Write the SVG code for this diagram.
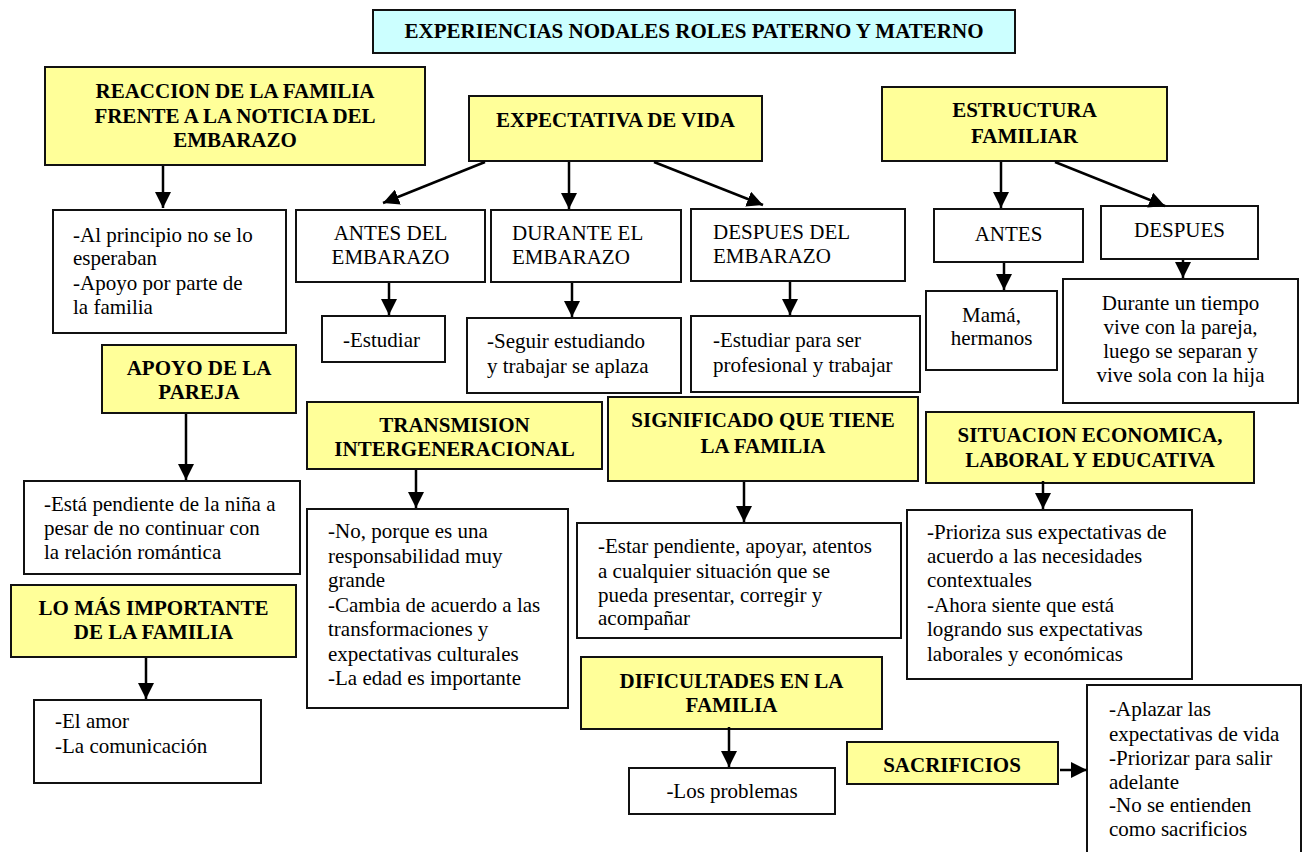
<svg xmlns="http://www.w3.org/2000/svg" width="1303" height="852" viewBox="0 0 1303 852">
<defs>
<style>
.h{fill:#FFFF99;stroke:#111;stroke-width:2}
.b{fill:#fff;stroke:#111;stroke-width:2}
.ti{fill:#CCFFFF;stroke:#111;stroke-width:2}
text{font-size:21px;fill:#000}
.bd{font-weight:bold}
.c{text-anchor:middle}
.ar{stroke:#000;stroke-width:2.5;fill:none;marker-end:url(#ah)}
</style>
<marker id="ah" markerUnits="userSpaceOnUse" markerWidth="16" markerHeight="16" refX="16" refY="8" orient="auto">
<path d="M0,0 L16,8 L0,16 z" fill="#000"/>
</marker>
</defs>
<rect width="1303" height="852" fill="#fff"/>
<g font-family="Liberation Serif, Tinos, Times New Roman, Times, Nimbus Roman, DejaVu Serif, Noto Serif, serif">

<g id="title">
<rect class="ti" x="373" y="10" width="642" height="43"/>
<text class="bd c" x="694" y="38" font-size="20">EXPERIENCIAS NODALES ROLES PATERNO Y MATERNO</text>
</g>

<g id="reaccion">
<rect class="h" x="45" y="67" width="380" height="98"/>
<text class="bd c" x="235" y="98">REACCION DE LA FAMILIA</text>
<text class="bd c" x="235" y="123">FRENTE A LA NOTICIA DEL</text>
<text class="bd c" x="235" y="147">EMBARAZO</text>
</g>
<g id="reaccion-det">
<rect class="b" x="53" y="210" width="233" height="123"/>
<text x="73" y="242">-Al principio no se lo</text>
<text x="73" y="265">esperaban</text>
<text x="73" y="290">-Apoyo por parte de</text>
<text x="73" y="314">la familia</text>
</g>

<g id="expectativa">
<rect class="h" x="469" y="96" width="293" height="65"/>
<text class="bd c" x="615.5" y="127">EXPECTATIVA DE VIDA</text>
</g>
<g id="antes-del">
<rect class="b" x="296" y="210" width="189" height="72"/>
<text class="c" x="390.5" y="240">ANTES DEL</text>
<text class="c" x="390.5" y="264">EMBARAZO</text>
</g>
<g id="durante-el">
<rect class="b" x="491" y="210" width="190" height="72"/>
<text x="512" y="240">DURANTE EL</text>
<text x="512" y="264">EMBARAZO</text>
</g>
<g id="despues-del">
<rect class="b" x="691" y="209" width="214" height="72"/>
<text x="713" y="239">DESPUES DEL</text>
<text x="713" y="263">EMBARAZO</text>
</g>
<g id="estudiar">
<rect class="b" x="322" y="316" width="123" height="46"/>
<text x="343" y="347">-Estudiar</text>
</g>
<g id="seguir">
<rect class="b" x="467" y="318" width="214" height="75"/>
<text x="487" y="348">-Seguir estudiando</text>
<text x="487" y="373">y trabajar se aplaza</text>
</g>
<g id="estudiar-para">
<rect class="b" x="691" y="316" width="229" height="76"/>
<text x="713" y="347">-Estudiar para ser</text>
<text x="713" y="372">profesional y trabajar</text>
</g>

<g id="estructura">
<rect class="h" x="882" y="87" width="285" height="74"/>
<text class="bd c" x="1024.5" y="117">ESTRUCTURA</text>
<text class="bd c" x="1024.5" y="143">FAMILIAR</text>
</g>
<g id="antes">
<rect class="b" x="934" y="209" width="149" height="53"/>
<text class="c" x="1008.5" y="241">ANTES</text>
</g>
<g id="despues">
<rect class="b" x="1101" y="206" width="157" height="53"/>
<text class="c" x="1179.5" y="237">DESPUES</text>
</g>
<g id="mama">
<rect class="b" x="926" y="291" width="131" height="79"/>
<text class="c" x="991.5" y="322">Mamá,</text>
<text class="c" x="991.5" y="345">hermanos</text>
</g>
<g id="durante-tiempo">
<rect class="b" x="1063" y="279" width="235" height="124"/>
<text class="c" x="1180.5" y="310">Durante un tiempo</text>
<text class="c" x="1180.5" y="334">vive con la pareja,</text>
<text class="c" x="1180.5" y="358">luego se separan y</text>
<text class="c" x="1180.5" y="382">vive sola con la hija</text>
</g>

<g id="apoyo">
<rect class="h" x="102" y="345" width="194" height="68"/>
<text class="bd c" x="199" y="375">APOYO DE LA</text>
<text class="bd c" x="199" y="399">PAREJA</text>
</g>
<g id="apoyo-det">
<rect class="b" x="24" y="481" width="276" height="93"/>
<text x="44" y="511">-Está pendiente de la niña a</text>
<text x="44" y="535">pesar de no continuar con</text>
<text x="44" y="559">la relación romántica</text>
</g>
<g id="lo-mas">
<rect class="h" x="11" y="585" width="285" height="72"/>
<text class="bd c" x="153.5" y="615">LO MÁS IMPORTANTE</text>
<text class="bd c" x="153.5" y="639">DE LA FAMILIA</text>
</g>
<g id="lo-mas-det">
<rect class="b" x="34" y="700" width="227" height="83"/>
<text x="55" y="728">-El amor</text>
<text x="55" y="753">-La comunicación</text>
</g>

<g id="transmision">
<rect class="h" x="307" y="402" width="295" height="67"/>
<text class="bd c" x="454.5" y="432">TRANSMISION</text>
<text class="bd c" x="454.5" y="456">INTERGENERACIONAL</text>
</g>
<g id="transmision-det">
<rect class="b" x="307" y="509" width="261" height="199"/>
<text x="328" y="538">-No, porque es una</text>
<text x="328" y="563">responsabilidad muy</text>
<text x="328" y="587">grande</text>
<text x="328" y="612">-Cambia de acuerdo a las</text>
<text x="328" y="636">transformaciones y</text>
<text x="328" y="661">expectativas culturales</text>
<text x="328" y="685">-La edad es importante</text>
</g>

<g id="significado">
<rect class="h" x="608" y="397" width="310" height="84"/>
<text class="bd c" x="763" y="427">SIGNIFICADO QUE TIENE</text>
<text class="bd c" x="763" y="453">LA FAMILIA</text>
</g>
<g id="significado-det">
<rect class="b" x="577" y="523" width="324" height="115"/>
<text x="598" y="553">-Estar pendiente, apoyar, atentos</text>
<text x="598" y="578">a cualquier situación que se</text>
<text x="598" y="602">pueda presentar, corregir y</text>
<text x="598" y="625">acompañar</text>
</g>

<g id="situacion">
<rect class="h" x="926" y="412" width="328" height="71"/>
<text class="bd c" x="1090" y="442">SITUACION ECONOMICA,</text>
<text class="bd c" x="1090" y="467">LABORAL Y EDUCATIVA</text>
</g>
<g id="situacion-det">
<rect class="b" x="907" y="510" width="285" height="169"/>
<text x="927" y="539">-Prioriza sus expectativas de</text>
<text x="927" y="563">acuerdo a las necesidades</text>
<text x="927" y="587">contextuales</text>
<text x="927" y="612">-Ahora siente que está</text>
<text x="927" y="636">logrando sus expectativas</text>
<text x="927" y="661">laborales y económicas</text>
</g>

<g id="dificultades">
<rect class="h" x="581" y="657" width="301" height="72"/>
<text class="bd c" x="731.5" y="688">DIFICULTADES EN LA</text>
<text class="bd c" x="731.5" y="712">FAMILIA</text>
</g>
<g id="dificultades-det">
<rect class="b" x="629" y="768" width="206" height="46"/>
<text class="c" x="732" y="798">-Los problemas</text>
</g>

<g id="sacrificios">
<rect class="h" x="847" y="742" width="211" height="42"/>
<text class="bd c" x="952" y="772">SACRIFICIOS</text>
</g>
<g id="sacrificios-det">
<rect class="b" x="1087" y="685" width="214" height="170"/>
<text x="1109" y="716">-Aplazar las</text>
<text x="1109" y="741">expectativas de vida</text>
<text x="1109" y="765">-Priorizar para salir</text>
<text x="1109" y="789">adelante</text>
<text x="1109" y="812">-No se entienden</text>
<text x="1109" y="836">como sacrificios</text>
</g>

<g id="connectors">
<line class="ar" x1="163" y1="166" x2="163" y2="208"/>
<line class="ar" x1="485" y1="162" x2="383" y2="203"/>
<line class="ar" x1="569" y1="162" x2="569" y2="209"/>
<line class="ar" x1="654" y1="162" x2="763" y2="205"/>
<line class="ar" x1="389" y1="283" x2="389" y2="315"/>
<line class="ar" x1="572" y1="283" x2="572" y2="317"/>
<line class="ar" x1="790" y1="282" x2="790" y2="315"/>
<line class="ar" x1="1001" y1="162" x2="1001" y2="208"/>
<line class="ar" x1="1055" y1="162" x2="1165" y2="206"/>
<line class="ar" x1="1004" y1="263" x2="1004" y2="290"/>
<line class="ar" x1="1183" y1="260" x2="1183" y2="278"/>
<line class="ar" x1="186" y1="414" x2="186" y2="480"/>
<line class="ar" x1="146" y1="658" x2="146" y2="699"/>
<line class="ar" x1="416" y1="470" x2="416" y2="508"/>
<line class="ar" x1="744" y1="482" x2="744" y2="522"/>
<line class="ar" x1="1043" y1="481" x2="1043" y2="509"/>
<line class="ar" x1="729" y1="727" x2="729" y2="767"/>
<line class="ar" x1="1060" y1="770" x2="1087" y2="770"/>
</g>
</g>
</svg>
